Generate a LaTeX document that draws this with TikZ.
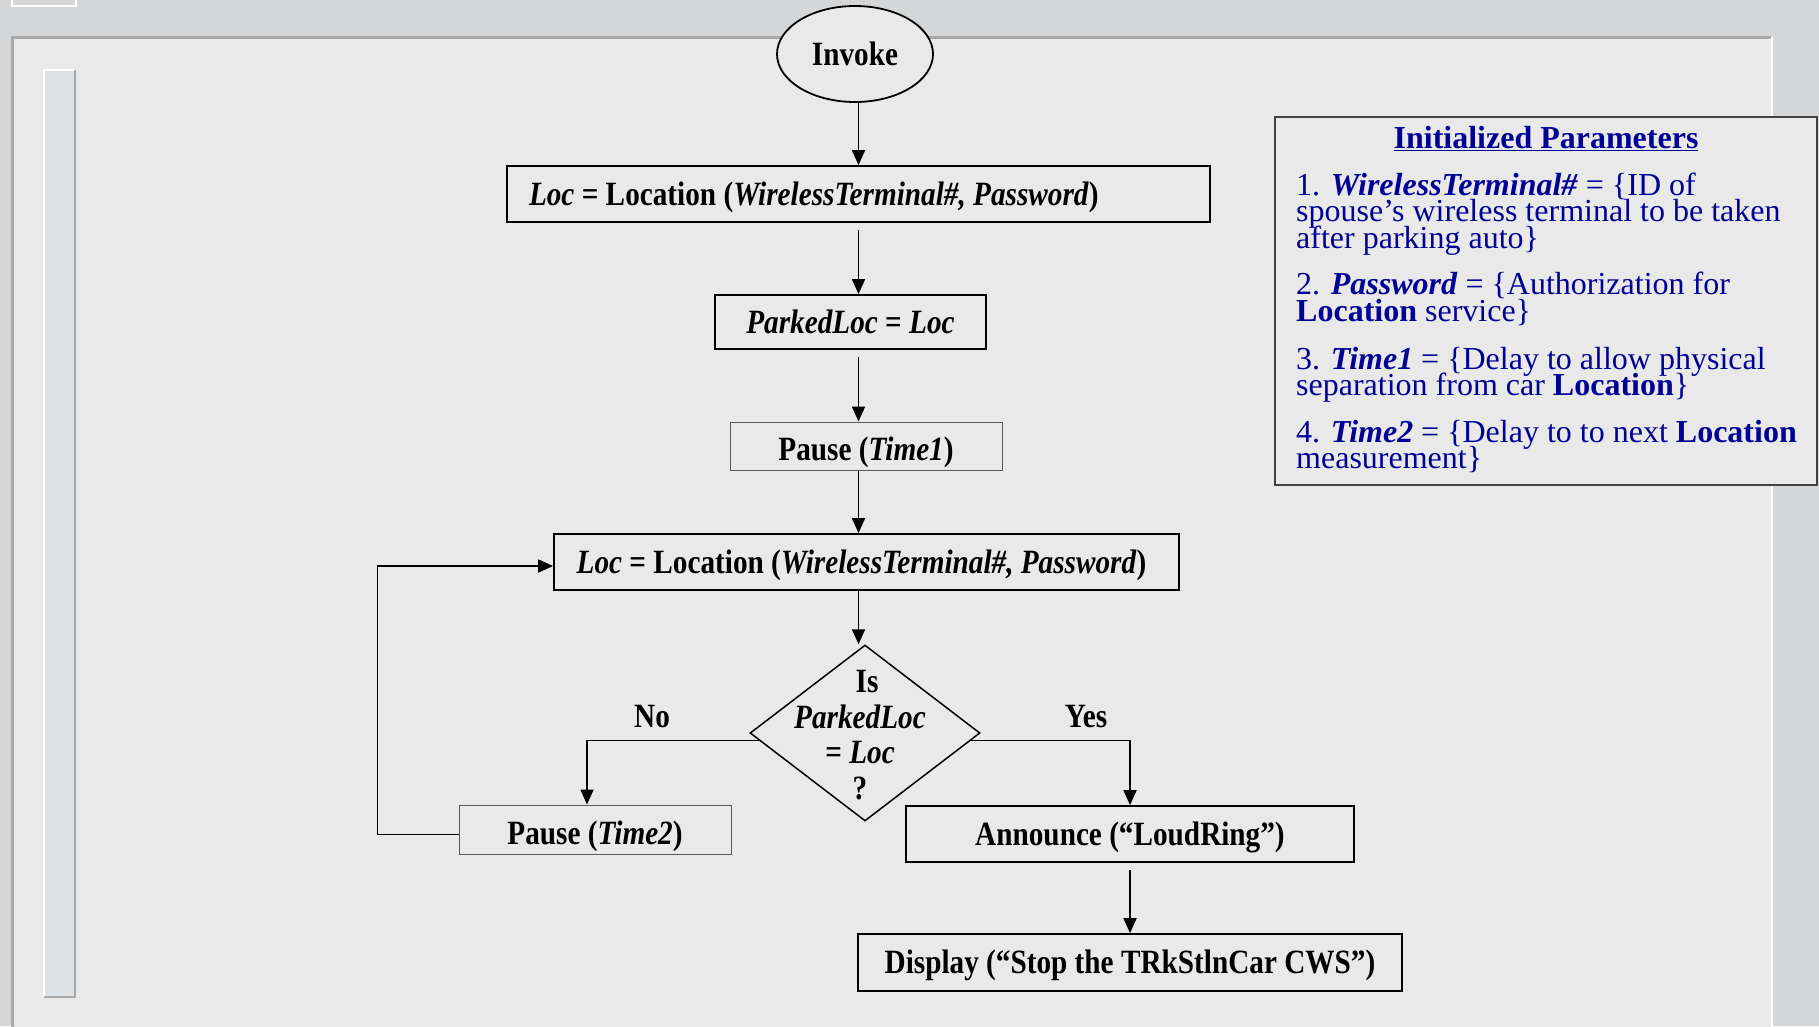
\documentclass[tikz,border=0pt]{standalone}
\usepackage{fontspec}
\setmainfont{Liberation Serif}
\newfontfamily\condserif{Liberation Serif}[FakeStretch=0.86]
\usetikzlibrary{shapes.geometric,arrows.meta}
\definecolor{navyblue}{RGB}{0,0,150}
\definecolor{bgouter}{RGB}{212,214,216}
\definecolor{bginner}{RGB}{233,233,233}
\definecolor{stripfill}{RGB}{221,225,228}
\definecolor{panelline}{RGB}{169,169,169}
\newcommand*{\flowtxt}{\condserif\fontsize{34}{35.5}\selectfont\bfseries}
\newcommand*{\paramtxt}{\fontsize{32}{26.5}\selectfont}
\begin{document}
\begin{tikzpicture}[x=1pt,y=-1pt,
  procbox/.style={draw=black, line width=1.8pt, inner sep=0pt, font=\flowtxt, fill=bginner, text height=22.5pt, text depth=0pt},
  thinbox/.style={draw=black!65, line width=1pt, inner sep=0pt, font=\flowtxt, fill=bginner, text height=29pt, text depth=0pt},
  boxtxt/.style={font=\flowtxt, inner sep=0pt, text height=22.5pt, text depth=0pt},
  conn/.style={line width=1.8pt, -{Triangle[length=15pt,width=13pt]}},
  lbl/.style={font=\flowtxt, inner sep=0pt},
  pline/.style={font=\paramtxt, text=navyblue, inner sep=0pt, anchor=base west}]
\useasboundingbox (0,0) rectangle (1819,1026);
% background
\fill[bgouter] (0,0) rectangle (1819,1026);
\fill[bginner] (12,37) rectangle (1771,1030);
\draw[panelline, line width=3pt] (12,1030) -- (12,37) -- (1771,37);
\draw[white, line width=2pt] (1772,37) -- (1772,1030);
\draw[white, line width=2pt] (12,-2) -- (12,6) -- (76,6) -- (76,-2);
\fill[stripfill] (44,70) rectangle (75,997);
\draw[white, line width=2pt] (44,997) -- (44,70) -- (75,70);
\draw[panelline, line width=2pt] (75,70) -- (75,997) -- (44,997);

% flowchart nodes
\node[ellipse, draw=black, line width=1.8pt, minimum width=156pt, minimum height=96pt, inner sep=0pt, font=\flowtxt, fill=bginner] (inv) at (855,54) {Invoke};
\node[procbox, minimum width=703pt, minimum height=56pt] (b1) at (858.5,194) {};
\node[boxtxt] (b1t) at ([xshift=-44.7pt]b1.center) {\textit{Loc} = Location (\textit{WirelessTerminal\#, Password})};
\node[procbox, minimum width=271pt, minimum height=54pt] (b2) at (850.5,322) {\textit{ParkedLoc} = \textit{Loc}};
\node[thinbox, minimum width=272pt, minimum height=48pt] (b3) at (866,446) {Pause (\textit{Time1})};
\node[procbox, minimum width=625pt, minimum height=56pt] (b4) at (866.5,562) {};
\node[boxtxt] (b4t) at ([xshift=-5pt]b4.center) {\textit{Loc} = Location (\textit{WirelessTerminal\#, Password})};
\node[diamond, draw=black, line width=1.5pt, minimum width=230pt, minimum height=176pt, inner sep=0pt, fill=bginner] (dec) at (865,733) {};
\node[font=\flowtxt, align=center, inner sep=0pt] (dectxt) at (860,735) {\hspace*{14pt}Is\\\textit{ParkedLoc}\\= \textit{Loc}\\?};
\node[thinbox, minimum width=272pt, minimum height=49pt] (p2) at (595,829.5) {Pause (\textit{Time2})};
\node[procbox, minimum width=448pt, minimum height=56pt] (ann) at (1130,834) {Announce (“LoudRing”)};
\node[procbox, minimum width=544pt, minimum height=57pt] (disp) at (1130,962.5) {Display (“Stop the TRkStlnCar CWS”)};
\node[lbl] (no) at (652,717) {No};
\node[lbl] (yes) at (1086,717) {Yes};

% connectors
\draw[conn] (inv.south -| b1.north) -- (b1.north);
\draw[conn] ([yshift=-7pt]b1.south) -- (b1.south |- b2.north);
\draw[conn] ([yshift=-7pt]b1.south |- b2.south) -- (b1.south |- b3.north);
\draw[conn] (b1.south |- b3.south) -- (b1.south |- b4.north);
\draw[conn] (b1.south |- b4.south) -- (b1.south |- dec.north);
\draw[conn] (dec.184) -| ([xshift=-8pt]p2.north);
\draw[conn] (dec.356) -| (ann.north);
\draw[conn] ([yshift=-7pt]ann.south) -- (disp.north);
\draw[line width=1.8pt] ([yshift=-5pt]p2.west) -- ++(-81,0) coordinate (lc);
\draw[conn] (lc) |- ([yshift=-4pt]b4.west);

% parameters box
\draw[black!75, line width=1.5pt, fill=bginner] (1275,117) rectangle (1817,485);
\node[font=\paramtxt\bfseries, text=navyblue, inner sep=0pt, anchor=base] (ptitle) at (1546,148.5) {\underline{Initialized Parameters}};
\node[pline] (l1) at (1296,195) {1. \textbf{\textit{WirelessTerminal\#}} = \{ID of};
\node[pline] (l2) at (1296,221.5) {spouse’s wireless terminal to be taken};
\node[pline] (l3) at (1296,248) {after parking auto\}};
\node[pline] (l4) at (1296,294.5) {2. \textbf{\textit{Password}} = \{Authorization for};
\node[pline] (l5) at (1296,321) {\textbf{Location} service\}};
\node[pline] (l6) at (1296,369) {3. \textbf{\textit{Time1}} = \{Delay to allow physical};
\node[pline] (l7) at (1296,395.5) {separation from car \textbf{Location}\}};
\node[pline] (l8) at (1296,442) {4. \textbf{\textit{Time2}} = \{Delay to to next \textbf{Location}};
\node[pline] (l9) at (1296,468.5) {measurement\}};
\end{tikzpicture}
\end{document}
